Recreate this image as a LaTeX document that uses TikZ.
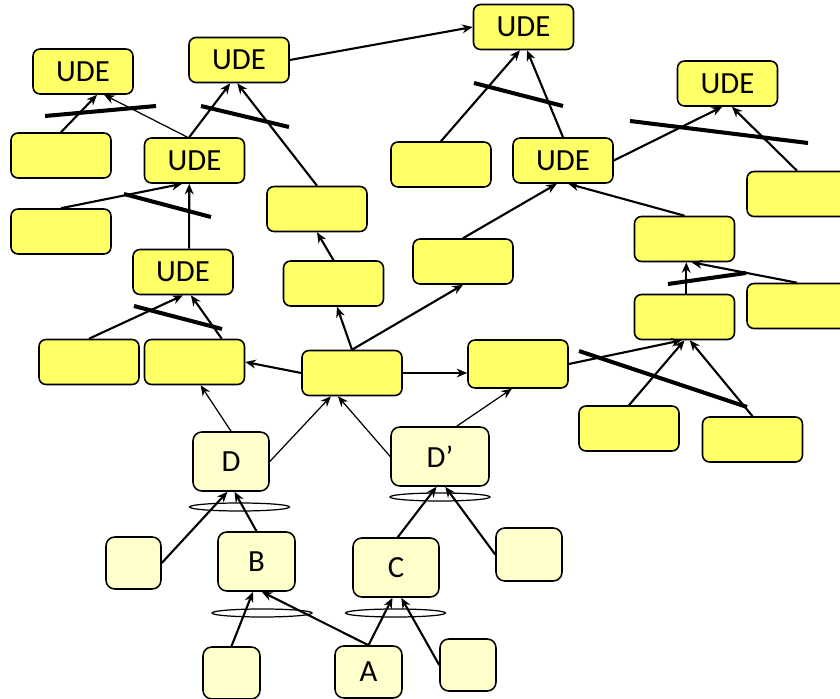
\documentclass[tikz,border=0pt]{standalone}
\usepackage{fontspec}
\setmainfont{Carlito}
\usepackage{tikz}
\usetikzlibrary{arrows.meta}
\definecolor{udeyellow}{HTML}{FFFF66}
\definecolor{paleyellow}{HTML}{FFFFCC}
\tikzset{
	effect/.style={draw=black, fill=udeyellow, rounded corners=4pt, line width=0.9pt,
		minimum width=2cm, minimum height=0.9cm, inner sep=0pt, font=\fontsize{17.5}{20}\selectfont},
	entity/.style={draw=black, fill=paleyellow, rounded corners=5pt, line width=0.9pt,
		inner sep=0pt, font=\fontsize{17.5}{20}\selectfont},
	cause/.style={draw=black, line width=1.2pt, -{Stealth[length=6pt,width=5pt]}},
	thincause/.style={cause, line width=0.7pt},
	negation/.style={draw=black, line width=2.3pt},
	conjunct/.style={draw=black, line width=0.7pt},
}
\begin{document}
\begin{tikzpicture}[x=0.02cm, y=-0.02cm]
		\useasboundingbox (0,0) rectangle (840,699);
		\clip (0,0) rectangle (840,699);
		% undesirable effects
		\node[effect] (udeA) at (83,71.5) {UDE};
		\node[effect] (udeB) at (239,60) {UDE};
		\node[effect] (udeTop) at (523.5,27) {UDE};
		\node[effect] (udeR) at (727.5,83.5) {UDE};
		\node[effect] (udeC) at (194.5,160.5) {UDE};
		\node[effect] (udeD) at (183,272) {UDE};
		\node[effect] (udeE) at (563,160.5) {UDE};
		% empty effects
		\node[effect] (eL1) at (61,155.5) {};
		\node[effect] (eL2) at (61,231.5) {};
		\node[effect] (eM1) at (317,209) {};
		\node[effect] (eM2) at (333.5,283.5) {};
		\node[effect] (eT1) at (441,164.5) {};
		\node[effect] (eT2) at (463,261.5) {};
		\node[effect] (eR1) at (797,194) {};
		\node[effect] (eR2) at (684.5,239) {};
		\node[effect] (eR3) at (684.5,317) {};
		\node[effect] (eR4) at (797,306) {};
		\node[effect] (eB1) at (89,362) {};
		\node[effect] (eB2) at (194.5,362) {};
		\node[effect] (eC0) at (352,373) {};
		\node[effect, minimum height=0.96cm] (eC1) at (518,364) {};
		\node[effect] (eBR1) at (629,428.5) {};
		\node[effect] (eBR2) at (752.5,439.5) {};
		% entities
		\node[entity, minimum width=1.52cm, minimum height=1.18cm] (nD) at (231,461.5) {D};
		\node[entity, minimum width=1.96cm, minimum height=1.18cm] (nDp) at (440,456.5) {D’};
		\node[entity, minimum width=1.54cm, minimum height=1.18cm] (nB) at (256.5,561.5) {B};
		\node[entity, minimum width=1.72cm, minimum height=1.18cm] (nC) at (396,567.5) {C};
		\node[entity, minimum width=1.34cm, minimum height=1.04cm] (nA) at (368.5,672) {A};
		\node[entity, minimum width=1.1cm, minimum height=1.04cm] (nS1) at (133.5,563) {};
		\node[entity, minimum width=1.14cm, minimum height=1.04cm] (nS2) at (231.5,673) {};
		\node[entity, minimum width=1.32cm, minimum height=1.06cm] (nS3) at (529,554.5) {};
		\node[entity, minimum width=1.12cm, minimum height=1.04cm] (nS4) at (468,665) {};
		% top left
		\draw[cause] (eL1.north) -- ([xshift=8pt]udeA.south);
		\draw[thincause] ([xshift=-4pt]udeC.north) -- ([xshift=12pt]udeA.south);
		\draw[negation] (45,116) -- (156,106);
		\draw[cause] ([xshift=-3pt]udeC.north) -- ([xshift=-5pt]udeB.south);
		\draw[cause] (eM1.north) -- ([xshift=-1pt]udeB.south);
		\draw[negation] (201,106) -- (289,127);
		\draw[cause] (udeB.east) -- (udeTop.west);
		\draw[cause] (eL2.north) -- ([xshift=-7pt]udeC.south);
		\draw[cause] ([xshift=3.5pt]udeD.north) -- ([xshift=-3pt]udeC.south);
		\draw[negation] (124,194) -- (211,217);
		\draw[cause] (eB1.north) -- (udeD.south);
		\draw[cause] ([xshift=15.5pt]eB2.north) -- ([xshift=4.5pt]udeD.south);
		\draw[negation] (134,306) -- (222,329);
		% middle and right
		\draw[cause] (eM2.north) -- (eM1.south);
		\draw[cause] (eC0.north) -- ([xshift=2pt]eM2.south);
		\draw[cause] (eC0.north) -- (eT2.south);
		\draw[cause] (eT1.north) -- ([xshift=-2pt]udeTop.south);
		\draw[cause] (udeE.north) -- ([xshift=2pt]udeTop.south);
		\draw[negation] (474,83) -- (563,106);
		\draw[cause] (eT2.north) -- ([xshift=-3.5pt]udeE.south);
		\draw[cause] (eR2.north) -- ([xshift=3pt]udeE.south);
		\draw[cause] (udeE.east) -- ([xshift=-3pt]udeR.south);
		\draw[cause] (eR1.north) -- ([xshift=2.5pt]udeR.south);
		\draw[negation] (630,121) -- (808,143);
		\draw[cause] ([xshift=1pt]eR3.north) -- ([xshift=1pt]eR2.south);
		\draw[cause] (eR4.north) -- ([xshift=4pt]eR2.south);
		\draw[negation] (668,284) -- (746,273);
		\draw[cause] (eC0.west) -- (eB2.east);
		\draw[thincause] (eC0.east) -- (eC0.east -| eC1.west);
		\draw[cause] (eC1.east) -- ([xshift=-1.5pt]eR3.south);
		\draw[cause] (eBR1.north) -- (eR3.south);
		\draw[cause] (eBR2.north) -- ([xshift=3pt]eR3.south);
		\draw[negation] (579,351) -- (747,407);
		% lower part
		\draw[thincause] (nD.north) -- ([xshift=3.5pt]eB2.south);
		\draw[thincause] (nD.east) -- ([xshift=-12pt]eC0.south);
		\draw[thincause] (nDp.west) -- ([xshift=-8pt]eC0.south);
		\draw[thincause] ([xshift=9.5pt]nDp.north) -- ([xshift=-3.5pt]eC1.south);
		\draw[cause] (nS1.east) -- ([xshift=-2pt]nD.south);
		\draw[cause] (nB.north) -- ([xshift=2pt]nD.south);
		\draw[conjunct] (239.5,507) ellipse (50 and 4);
		\draw[cause] (nS2.north) -- ([xshift=-2pt]nB.south);
		\draw[cause] (nA.north) -- ([xshift=3pt]nB.south);
		\draw[conjunct] (262,613) ellipse (50 and 4);
		\draw[cause] (nA.north) -- ([xshift=-2pt]nC.south);
		\draw[cause] (nS4.west) -- ([xshift=3pt]nC.south);
		\draw[conjunct] (395.5,613) ellipse (50 and 4);
		\draw[cause] ([xshift=1pt]nC.north) -- ([xshift=-2pt]nDp.south);
		\draw[cause] (nS3.west) -- ([xshift=3pt]nDp.south);
		\draw[conjunct] (440,497) ellipse (50 and 4);
\end{tikzpicture}
\end{document}
